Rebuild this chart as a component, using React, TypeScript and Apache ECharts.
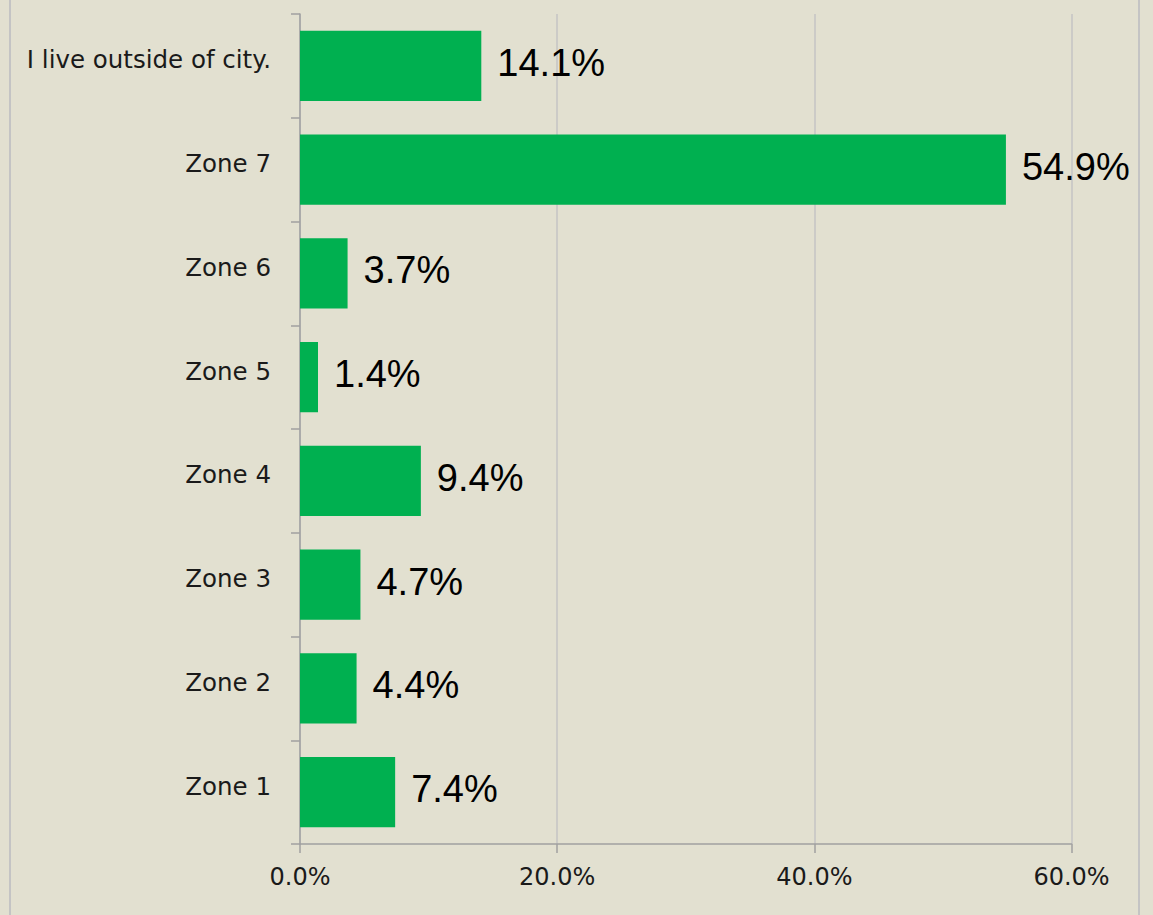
import React, { useEffect, useRef } from "react";
import * as echarts from "echarts";

const categories = [
  "Zone 1",
  "Zone 2",
  "Zone 3",
  "Zone 4",
  "Zone 5",
  "Zone 6",
  "Zone 7",
  "I live outside of city.",
];
const values = [7.4, 4.4, 4.7, 9.4, 1.4, 3.7, 54.9, 14.1];
const xTicks = [0, 20, 40, 60];

export default function App() {
  const ref = useRef<HTMLDivElement>(null);
  useEffect(() => {
    if (!ref.current) return;
    const chart = echarts.init(ref.current, null, { renderer: "svg" });
    chart.setOption({
      animation: false,
      backgroundColor: "#e2e0d0",
      graphic: [
        {
          type: "rect",
          shape: { x: 10, y: -10, width: 1129, height: 940 },
          style: { fill: "none", stroke: "#c4c4c4", lineWidth: 2 },
          silent: true,
        },
      ],
      grid: { left: 300, right: 81.5, top: 14, bottom: 71, containLabel: false },
      xAxis: {
        type: "value",
        min: xTicks[0],
        max: xTicks[xTicks.length - 1],
        interval: 20,
        axisLine: { show: true, lineStyle: { color: "#a0a0a0", width: 1.5 } },
        axisTick: { show: true, length: 9, lineStyle: { color: "#a0a0a0", width: 1.5 } },
        splitLine: { show: true, lineStyle: { color: "#c4c4c4", width: 1.5 } },
        axisLabel: {
          margin: 21,
          fontFamily: "DejaVu Sans",
          fontSize: 24,
          color: "#1a1a1a",
          formatter: (v: number) => v.toFixed(1) + "%",
        },
      },
      yAxis: {
        type: "category",
        data: categories,
        axisLine: { show: true, lineStyle: { color: "#a0a0a0", width: 1.5 } },
        axisTick: { show: true, length: 9, lineStyle: { color: "#a0a0a0", width: 1.5 } },
        axisLabel: {
          margin: 29,
          fontFamily: "DejaVu Sans",
          fontSize: 24.5,
          color: "#1a1a1a",
          verticalAlign: "bottom",
          lineHeight: 12,
        },
      },
      series: [
        {
          type: "bar",
          data: values,
          barCategoryGap: "32.5%",
          itemStyle: { color: "#00b050" },
          label: {
            show: true,
            position: "right",
            distance: 16,
            offset: [0, -3],
            fontFamily: "Liberation Sans",
            fontSize: 38,
            color: "#000",
            formatter: (p: any) => p.value.toFixed(1) + "%",
          },
        },
      ],
    });
    return () => chart.dispose();
  }, []);
  return (
    <div
      ref={ref}
      style={{ position: "fixed", left: 0, top: 0, width: 1153, height: 915 }}
    />
  );
}
